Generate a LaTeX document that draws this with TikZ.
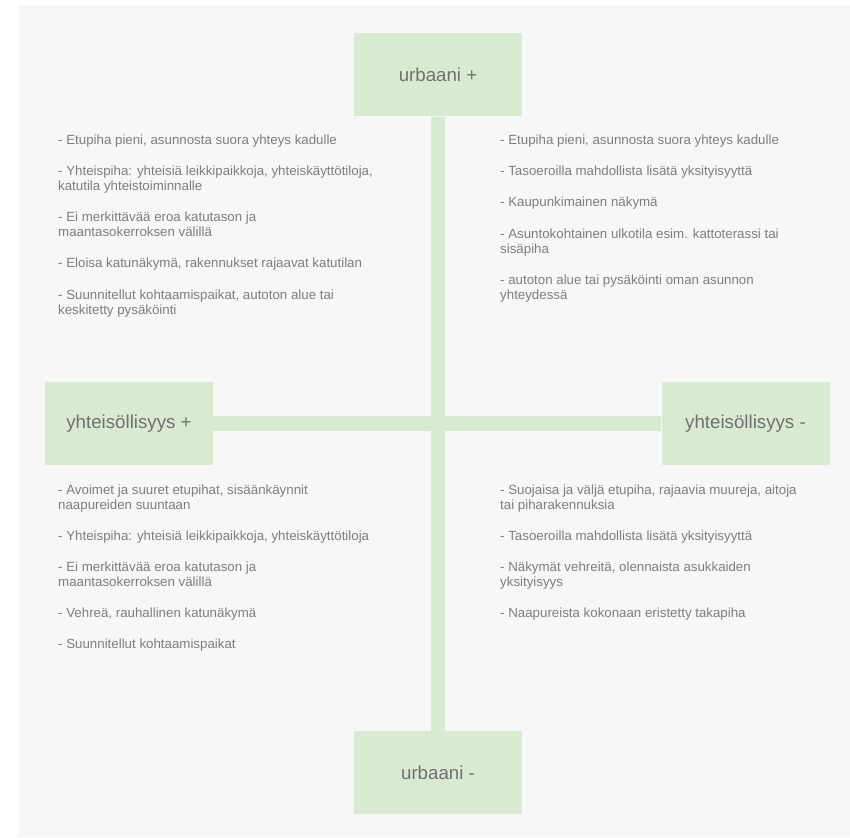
\documentclass[tikz,border=0pt]{standalone}
\usepackage{fontspec}
\setmainfont{Liberation Sans}
\definecolor{bgray}{HTML}{F7F7F7}
\definecolor{boxgreen}{HTML}{D9EAD3}
\definecolor{titlegray}{HTML}{707070}
\definecolor{bodygray}{HTML}{7E7E7E}
\tikzset{
  axisbox/.style={fill=boxgreen, draw=none, minimum width=168pt, minimum height=83pt, inner sep=0pt,
    text=titlegray, font=\fontsize{18.7}{22}\selectfont},
  axisbar/.style={draw=boxgreen, line cap=butt},
  itemtext/.style={anchor=base west, inner sep=0pt, text=bodygray}
}
\newcommand{\itemblock}[1]{\parbox[t]{340pt}{\fontsize{13.3}{15}\selectfont\raggedright #1}}
\begin{document}
\begin{tikzpicture}[x=1pt,y=-1pt]
\useasboundingbox (0,0) rectangle (850,837);
\fill[white] (0,0) rectangle (850,837);
\fill[bgray] (18,5) rectangle (850,837);

\node[axisbox] (top) at (438,75) {urbaani +};
\node[axisbox] (bottom) at (438,772.5) {urbaani -};
\node[axisbox] (left) at (129,423.5) {yhteisöllisyys +};
\node[axisbox] (right) at (745.5,423.5) {yhteisöllisyys -};

\draw[axisbar, line width=13.6pt] (top.south) -- (bottom.north);
\draw[axisbar, line width=15pt] (left.east) -- (right.west);

\node[itemtext] (tl) at (58,145) {\itemblock{%
- Etupiha pieni, asunnosta suora yhteys kadulle\\[16pt]
- Yhteispiha: yhteisiä leikkipaikkoja, yhteiskäyttötiloja,\\
katutila yhteistoiminnalle\\[16pt]
- Ei merkittävää eroa katutason ja\\
maantasokerroksen välillä\\[16pt]
- Eloisa katunäkymä, rakennukset rajaavat katutilan\\[16pt]
- Suunnitellut kohtaamispaikat, autoton alue tai\\
keskitetty pysäköinti}};

\node[itemtext] (tr) at (500,145) {\itemblock{%
- Etupiha pieni, asunnosta suora yhteys kadulle\\[16pt]
- Tasoeroilla mahdollista lisätä yksityisyyttä\\[16pt]
- Kaupunkimainen näkymä\\[16pt]
- Asuntokohtainen ulkotila esim. kattoterassi tai\\
sisäpiha\\[16pt]
- autoton alue tai pysäköinti oman asunnon\\
yhteydessä}};

\node[itemtext] (bl) at (58,494) {\itemblock{%
- Avoimet ja suuret etupihat, sisäänkäynnit\\
naapureiden suuntaan\\[16pt]
- Yhteispiha: yhteisiä leikkipaikkoja, yhteiskäyttötiloja\\[16pt]
- Ei merkittävää eroa katutason ja\\
maantasokerroksen välillä\\[16pt]
- Vehreä, rauhallinen katunäkymä\\[16pt]
- Suunnitellut kohtaamispaikat}};

\node[itemtext] (br) at (500,494) {\itemblock{%
- Suojaisa ja väljä etupiha, rajaavia muureja, aitoja\\
tai piharakennuksia\\[16pt]
- Tasoeroilla mahdollista lisätä yksityisyyttä\\[16pt]
- Näkymät vehreitä, olennaista asukkaiden\\
yksityisyys\\[16pt]
- Naapureista kokonaan eristetty takapiha}};
\end{tikzpicture}
\end{document}
